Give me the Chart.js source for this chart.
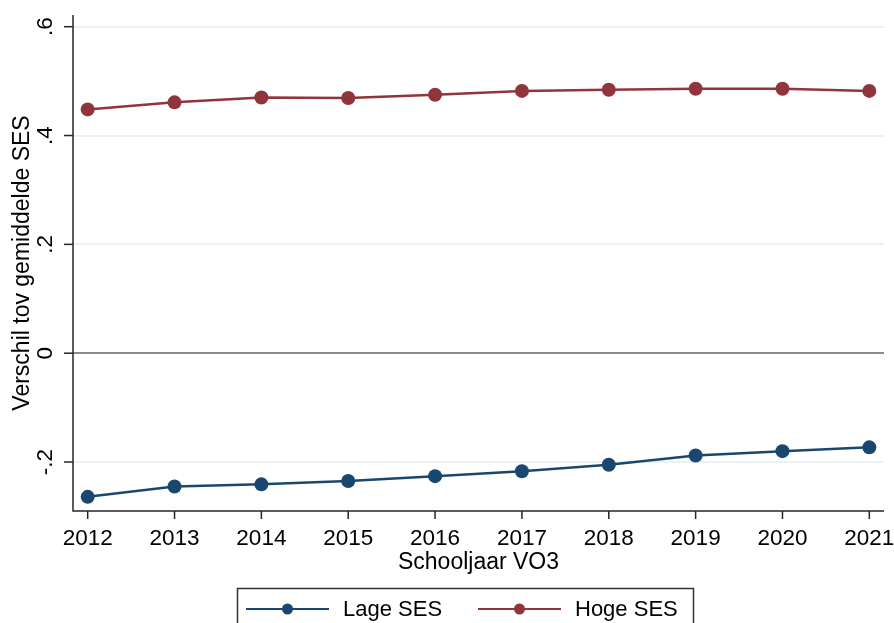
<!DOCTYPE html>
<html>
<head>
<meta charset="utf-8">
<script src="https://cdn.jsdelivr.net/npm/chart.js@4/dist/chart.umd.min.js"></script>
<style>
  html, body { margin: 0; padding: 0; background: #fff; }
  #wrap { width: 894px; height: 623px; position: relative; }
</style>
</head>
<body>
<div id="wrap"><canvas id="c" width="894" height="623"></canvas></div>
<script>
const years = [2012, 2013, 2014, 2015, 2016, 2017, 2018, 2019, 2020, 2021];
const lageSES = [-0.264, -0.245, -0.241, -0.235, -0.226, -0.217, -0.205, -0.188, -0.180, -0.173];
const hogeSES = [0.448, 0.461, 0.470, 0.469, 0.475, 0.482, 0.484, 0.486, 0.486, 0.482];
const yTickValues = [-0.2, 0, 0.2, 0.4, 0.6];
const yTickLabels = ['-.2', '0', '.2', '.4', '.6'];
const seriesNames = ['Lage SES', 'Hoge SES'];
const xTitle = 'Schooljaar VO3';
const yTitle = 'Verschil tov gemiddelde SES';

const NAVY = '#1a476f';
const MAROON = '#90353b';
const FONT = '"Liberation Sans", Arial, sans-serif';
const AXIS = '#262626';

const stataPlugin = {
  id: 'stata',
  afterDraw(chart) {
    const ctx = chart.ctx;
    const area = chart.chartArea;
    const xs = chart.scales.x, ys = chart.scales.y;
    ctx.save();
    // axis lines
    ctx.strokeStyle = AXIS;
    ctx.lineWidth = 1.5;
    ctx.beginPath();
    ctx.moveTo(area.left, area.top);
    ctx.lineTo(area.left, area.bottom);
    ctx.lineTo(area.right, area.bottom);
    ctx.stroke();
    // y ticks + labels
    ctx.fillStyle = '#000';
    ctx.font = '22.5px ' + FONT;
    ctx.textAlign = 'center';
    ctx.textBaseline = 'middle';
    yTickValues.forEach((v, i) => {
      const py = ys.getPixelForValue(v);
      ctx.beginPath();
      ctx.moveTo(area.left - 9, py);
      ctx.lineTo(area.left, py);
      ctx.stroke();
      ctx.save();
      ctx.translate(area.left - 27, py);
      ctx.rotate(-Math.PI / 2);
      ctx.fillText(yTickLabels[i], 0, 0);
      ctx.restore();
    });
    // x ticks + labels
    years.forEach((yr) => {
      const px = xs.getPixelForValue(yr);
      ctx.beginPath();
      ctx.moveTo(px, area.bottom);
      ctx.lineTo(px, area.bottom + 8);
      ctx.stroke();
      ctx.fillText(String(yr), px, area.bottom + 28);
    });
    // titles
    ctx.font = '23px ' + FONT;
    ctx.fillText(xTitle, (area.left + area.right) / 2, area.bottom + 52);
    ctx.save();
    ctx.translate(23, (area.top + area.bottom) / 2);
    ctx.rotate(-Math.PI / 2);
    ctx.fillText(yTitle, 0, 0);
    ctx.restore();
    // legend
    ctx.font = '22px ' + FONT;
    ctx.strokeStyle = '#333';
    ctx.lineWidth = 1.5;
    ctx.strokeRect(237.5, 588.5, 456, 60);
    const items = [
      { x: 246, color: NAVY, label: seriesNames[0] },
      { x: 478, color: MAROON, label: seriesNames[1] }
    ];
    items.forEach(it => {
      ctx.strokeStyle = it.color;
      ctx.lineWidth = 2;
      ctx.beginPath();
      ctx.moveTo(it.x, 609);
      ctx.lineTo(it.x + 83, 609);
      ctx.stroke();
      ctx.fillStyle = it.color;
      ctx.beginPath();
      ctx.arc(it.x + 41.5, 609, 5.5, 0, Math.PI * 2);
      ctx.fill();
      ctx.fillStyle = '#000';
      ctx.textAlign = 'left';
      ctx.fillText(it.label, it.x + 97, 610);
    });
    ctx.restore();
  }
};

new Chart(document.getElementById('c'), {
  type: 'line',
  data: {
    datasets: [
      {
        label: seriesNames[0],
        data: years.map((y, i) => ({ x: y, y: lageSES[i] })),
        borderColor: NAVY, backgroundColor: NAVY,
        pointBackgroundColor: NAVY, pointBorderWidth: 0,
        pointRadius: 7, borderWidth: 2.5, tension: 0
      },
      {
        label: seriesNames[1],
        data: years.map((y, i) => ({ x: y, y: hogeSES[i] })),
        borderColor: MAROON, backgroundColor: MAROON,
        pointBackgroundColor: MAROON, pointBorderWidth: 0,
        pointRadius: 7, borderWidth: 2.5, tension: 0
      }
    ]
  },
  options: {
    responsive: false,
    animation: false,
    events: [],
    layout: { padding: { left: 73, right: 10, top: 15, bottom: 112 } },
    plugins: { legend: { display: false }, tooltip: { enabled: false } },
    scales: {
      x: {
        type: 'linear', display: false,
        min: 2011.831, max: 2021.169,
        afterBuildTicks: (s) => { s.ticks = years.map(v => ({ value: v })); }
      },
      y: {
        type: 'linear', display: true,
        min: -0.290, max: 0.6215,
        afterBuildTicks: (s) => { s.ticks = yTickValues.map(v => ({ value: v })); },
        ticks: { display: false },
        border: { display: false },
        grid: {
          drawTicks: false,
          color: (c) => (c.tick && c.tick.value === 0) ? '#8c8c8c' : '#eaf2f3',
          lineWidth: 2
        }
      }
    }
  },
  plugins: [stataPlugin]
});
</script>
</body>
</html>
